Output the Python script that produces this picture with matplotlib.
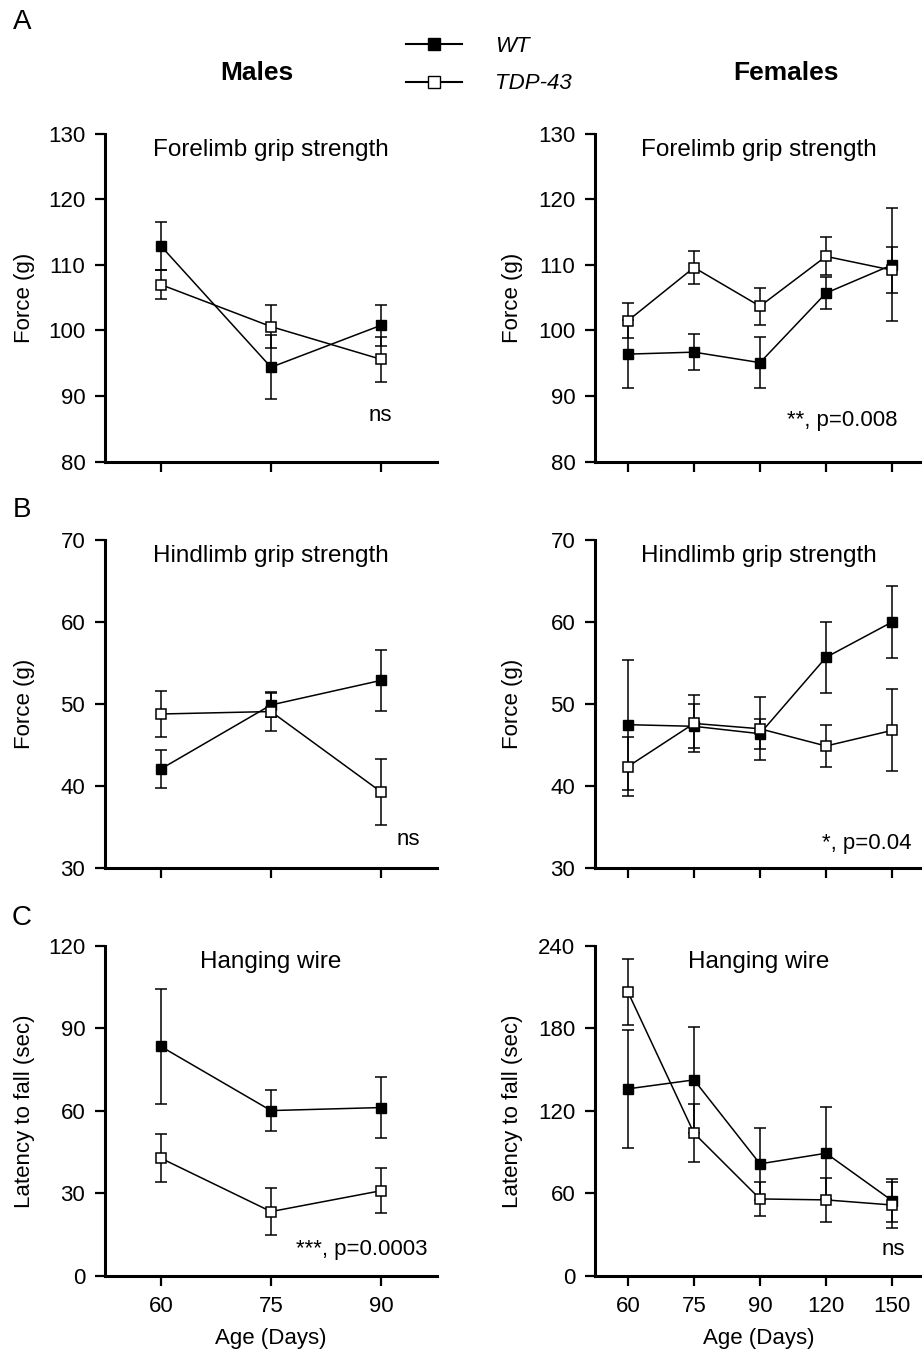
import matplotlib
matplotlib.use("Agg")
import matplotlib.pyplot as plt
from matplotlib.lines import Line2D

plt.rcParams['font.family'] = ['Liberation Sans', 'DejaVu Sans']

MALE_AGE = [60, 75, 90]
FEMALE_AGE = ["60", "75", "90", "120", "150"]

# A: forelimb grip strength, force (g), mean and SEM
fore_m_wt = [112.9, 94.4, 100.8]
fore_m_wt_err = [3.7, 4.9, 3.1]
fore_m_tdp = [107.0, 100.6, 95.6]
fore_m_tdp_err = [2.2, 3.3, 3.4]
fore_f_wt = [96.4, 96.7, 95.1, 105.7, 110.0]
fore_f_wt_err = [5.2, 2.75, 3.9, 2.4, 8.6]
fore_f_tdp = [101.5, 109.6, 103.7, 111.3, 109.2]
fore_f_tdp_err = [2.7, 2.45, 2.85, 2.9, 3.5]

# B: hindlimb grip strength
hind_m_wt = [42.1, 49.9, 52.9]
hind_m_wt_err = [2.3, 1.5, 3.7]
hind_m_tdp = [48.8, 49.1, 39.3]
hind_m_tdp_err = [2.75, 2.4, 4.0]
hind_f_wt = [47.5, 47.3, 46.4, 55.7, 60.0]
hind_f_wt_err = [7.9, 2.7, 1.85, 4.3, 4.4]
hind_f_tdp = [42.4, 47.65, 47.0, 44.9, 46.8]
hind_f_tdp_err = [3.6, 3.5, 3.85, 2.55, 5.0]

# C: hanging wire, latency to fall (sec)
wire_m_wt = [83.4, 60.1, 61.2]
wire_m_wt_err = [21.0, 7.6, 11.2]
wire_m_tdp = [42.8, 23.4, 31.0]
wire_m_tdp_err = [8.75, 8.5, 8.1]
wire_f_wt = [136.0, 142.5, 81.5, 89.2, 54.8]
wire_f_wt_err = [42.7, 38.4, 26.0, 33.5, 15.5]
wire_f_tdp = [206.3, 103.8, 56.0, 55.3, 51.6]
wire_f_tdp_err = [24.2, 21.2, 12.4, 16.2, 17.0]

W, H = 922, 1354
fig = plt.figure(figsize=(W / 100, H / 100), dpi=100)

# pixel boxes of the axes
ROWS = [(133.7, 461.7), (540.0, 868.3), (945.7, 1276.0)]
COLS = [(105, 437), (595, 922)]

FS = 16  # ticks, axis labels, notes


def add_ax(col, row):
    l, r = COLS[col]
    t, b = ROWS[row]
    return fig.add_axes([l / W, 1 - b / H, (r - l) / W, (b - t) / H])


def style(ax, yticks):
    for s in ("top", "right"):
        ax.spines[s].set_visible(False)
    for s in ("left", "bottom"):
        ax.spines[s].set_linewidth(2.2)
    ax.tick_params(direction="out", length=7.2, width=1.6, labelsize=FS, pad=7)
    ax.set_ylim(yticks[0], yticks[-1])
    ax.set_yticks(yticks)


def draw(ax, x, wt, wt_err, tdp, tdp_err):
    kw = dict(color="black", lw=1.1, elinewidth=1.1, capsize=4.3, capthick=1.1,
              marker="s", ms=7, clip_on=False)
    ax.errorbar(x, wt, yerr=wt_err, mfc="black", mec="black", zorder=3, **kw)
    ax.errorbar(x, tdp, yerr=tdp_err, mfc="white", mec="black", mew=1.1, zorder=3, **kw)


panels = [
    (0, "Forelimb grip strength", list(range(80, 131, 10)), "Force (g)",
     (fore_m_wt, fore_m_wt_err, fore_m_tdp, fore_m_tdp_err),
     (fore_f_wt, fore_f_wt_err, fore_f_tdp, fore_f_tdp_err),
     list(range(80, 131, 10)), "ns", (0.83, 0.142, "center"), "**, p=0.008", (0.924, 0.127)),
    (1, "Hindlimb grip strength", list(range(30, 71, 10)), "Force (g)",
     (hind_m_wt, hind_m_wt_err, hind_m_tdp, hind_m_tdp_err),
     (hind_f_wt, hind_f_wt_err, hind_f_tdp, hind_f_tdp_err),
     list(range(30, 71, 10)), "ns", (0.913, 0.089, "center"), "*, p=0.04", (0.969, 0.077)),
    (2, "Hanging wire", list(range(0, 121, 30)), "Latency to fall (sec)",
     (wire_m_wt, wire_m_wt_err, wire_m_tdp, wire_m_tdp_err),
     (wire_f_wt, wire_f_wt_err, wire_f_tdp, wire_f_tdp_err),
     list(range(0, 241, 60)), "***, p=0.0003", (0.97, 0.079, "right"), "ns", (0.948, 0.079)),
]

for row, title, yt_m, ylab, mdata, fdata, yt_f, m_note, m_pos, f_note, f_pos in panels:
    # males
    ax = add_ax(0, row)
    draw(ax, MALE_AGE, *mdata)
    style(ax, yt_m)
    ax.set_xlim(52.4, 97.6)
    ax.set_xticks(MALE_AGE)
    ax.set_ylabel(ylab, fontsize=FS)
    ax.yaxis.set_label_coords(-0.21, 0.5)
    ax.text(0.5, 0.95, title, transform=ax.transAxes, ha="center", va="center", fontsize=17.5)
    ax.text(m_pos[0], m_pos[1], m_note, transform=ax.transAxes, ha=m_pos[2],
            va="center", fontsize=FS)
    if row < 2:
        ax.set_xticklabels([])
    else:
        ax.set_xlabel("Age (Days)", fontsize=FS, labelpad=8)

    # females
    ax = add_ax(1, row)
    xs = list(range(len(FEMALE_AGE)))
    draw(ax, xs, *fdata)
    style(ax, yt_f)
    ax.set_xlim(-0.5, 4.455)
    ax.set_xticks(xs)
    ax.set_ylabel(ylab, fontsize=FS)
    ax.yaxis.set_label_coords(-0.22, 0.5)
    ax.text(0.5, 0.95, title, transform=ax.transAxes, ha="center", va="center", fontsize=17.5)
    ax.text(f_pos[0], f_pos[1], f_note, transform=ax.transAxes, ha="right",
            va="center", fontsize=FS)
    if row < 2:
        ax.set_xticklabels([])
    else:
        ax.set_xticklabels(FEMALE_AGE)
        ax.set_xlabel("Age (Days)", fontsize=FS, labelpad=8)

# panel letters and column headers
for letter, y in zip("ABC", (22, 510, 918)):
    fig.text(22 / W, 1 - y / H, letter, fontsize=20, ha="center", va="center")
fig.text(257 / W, 1 - 73 / H, "Males", fontsize=19, weight="bold", ha="center", va="center")
fig.text(786 / W, 1 - 73 / H, "Females", fontsize=19, weight="bold", ha="center", va="center")

handles = [
    Line2D([], [], color="black", lw=1.5, marker="s", ms=8, mfc="black", mec="black"),
    Line2D([], [], color="black", lw=1.5, marker="s", ms=8, mfc="white", mec="black"),
]
fig.legend(handles, ["WT", "TDP-43"], loc="center left", bbox_to_anchor=(406 / W, 1 - 65 / H),
           frameon=False, prop={"style": "italic", "size": 16}, handlelength=2.5,
           handletextpad=1.5, labelspacing=0.75, borderpad=0, borderaxespad=0)

fig.savefig("out.png", dpi=100)
